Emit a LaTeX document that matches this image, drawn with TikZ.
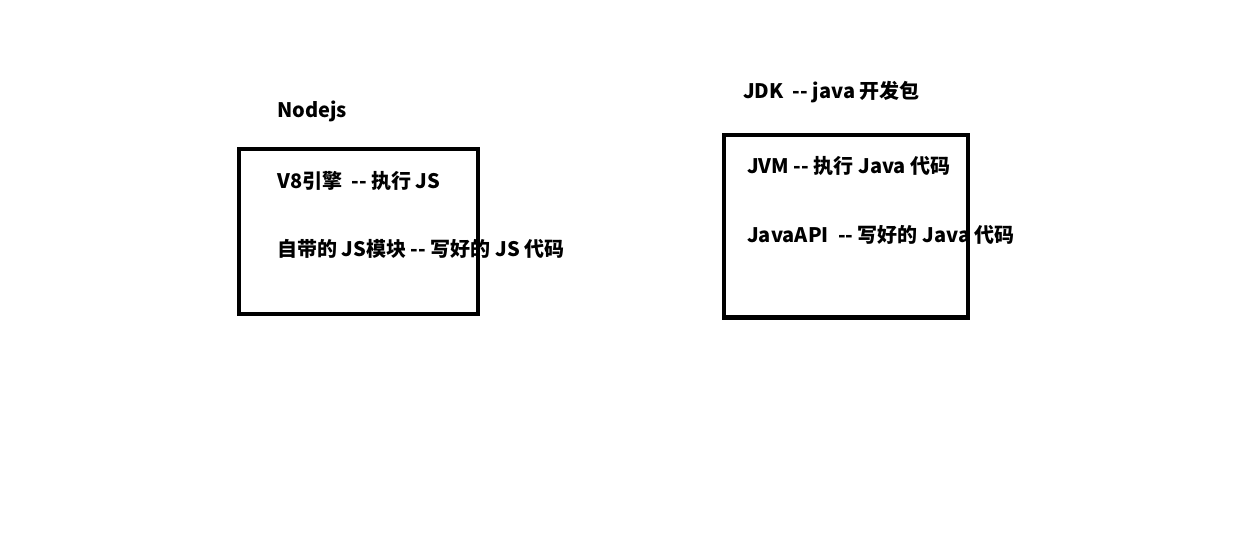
\documentclass[tikz,border=0pt]{standalone}
\usepackage{fontspec}
\newfontfamily\cjk{Noto Sans CJK SC}
\begin{document}
\begin{tikzpicture}[x=0.75pt,y=-0.75pt,
  lbl/.style={anchor=base west,inner sep=0pt,font=\cjk\bfseries\fontsize{15}{18}\selectfont},
  frame/.style={draw=black,line width=3.4pt}]
   \useasboundingbox (0,0) rectangle (1252,546);
   % Nodejs
   \node[lbl] (nodejs) at (277,117) {Nodejs};
   \draw[frame] (239,149) rectangle (478,314);
   \node[lbl] (v8) at (277,188) {V8引擎\ \ -{}- 执行 JS};
   \node[lbl] (jsmod) at (277,256) {自带的 JS模块 -{}- 写好的 JS 代码};
   % JDK
   \node[lbl] (jdk) at (743,98) {JDK\ \ -{}- java 开发包};
   \draw[frame] (724,135) rectangle (968,317.5);
   \node[lbl] (jvm) at (747,173) {JVM -{}- 执行 Java 代码};
   \node[lbl] (javaapi) at (747,242) {JavaAPI\ \ -{}- 写好的 Java 代码};
  \end{tikzpicture}
\end{document}
